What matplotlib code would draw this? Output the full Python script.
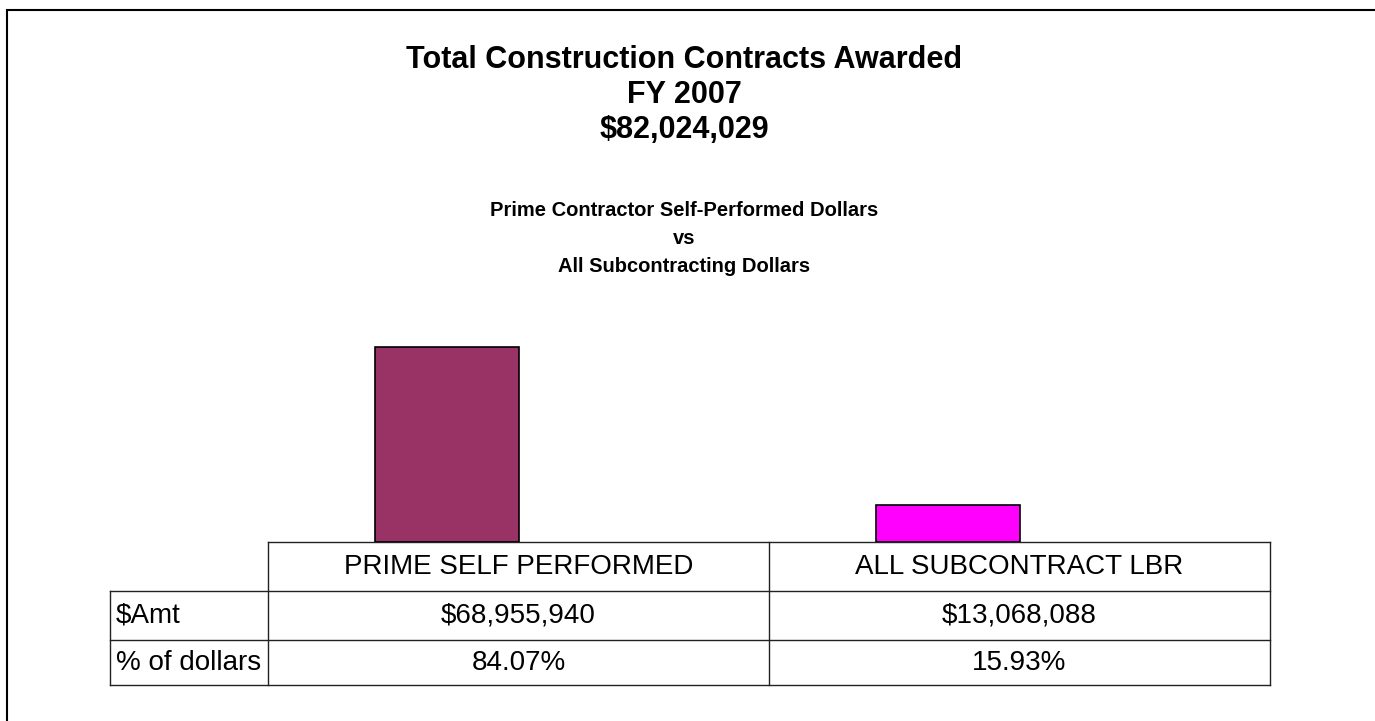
import numpy as np
import matplotlib.pyplot as plt
from matplotlib.patches import Rectangle

plt.rcParams['font.family'] = ['Liberation Sans', 'DejaVu Sans']

# data
categories = ['PRIME SELF PERFORMED', 'ALL SUBCONTRACT LBR']
amounts = [68955940, 13068088]
amt_labels = ['$68,955,940', '$13,068,088']
pct_labels = ['84.07%', '15.93%']
row_labels = ['$Amt', '% of dollars']
bar_colors = ['#993366', '#FF00FF']

title_lines = ['Total Construction Contracts Awarded', 'FY 2007', '$82,024,029']
sub_lines = ['Prime Contractor Self-Performed Dollars', 'vs', 'All Subcontracting Dollars']

W, H = 1375, 721
fig = plt.figure(figsize=(W/100, H/100), dpi=100)

def fx(px):
    return px / W

def fy(py):
    return 1 - py / H

# outer frame (only top and left show in the picture)
fig.patches.append(Rectangle((fx(7), fy(1000)), fx(1400), fy(10) - fy(1000),
                             transform=fig.transFigure, fill=False,
                             edgecolor='black', linewidth=1.5))

# titles
for i, t in enumerate(title_lines):
    fig.text(fx(684), fy(60 + 35*i), t, ha='center', va='center',
             fontsize=22, fontweight='bold')
for i, t in enumerate(sub_lines):
    fig.text(fx(684), fy(210 + 28*i), t, ha='center', va='center',
             fontsize=14.5, fontweight='bold')

# bar area spans the two data columns of the table
ax = fig.add_axes([fx(268), fy(542), fx(1270) - fx(268), fy(316) - fy(542)])
x = np.arange(len(categories))
ax.bar(x + 0.357, amounts, width=0.288, align='center', color=bar_colors,
       edgecolor='black', linewidth=1.2)
ax.set_xlim(0, 2)
ax.set_ylim(0, 80000000)
ax.axis('off')

# data table under the bars, drawn in pixel units
tb = fig.add_axes([0, 0, 1, 1], zorder=-1)
tb.set_xlim(0, W)
tb.set_ylim(H, 0)
tb.axis('off')

lab_l, col_l, col_r = 110, 268, 1270
col_w = (col_r - col_l) / len(categories)
row_y = [542, 591, 640, 685]
lc = '#222222'

# horizontal lines
tb.plot([col_l, col_r], [row_y[0], row_y[0]], color=lc, lw=1)
for yy in row_y[1:]:
    tb.plot([lab_l, col_r], [yy, yy], color=lc, lw=1)
# vertical lines
tb.plot([lab_l, lab_l], [row_y[1], row_y[3]], color=lc, lw=1)
for j in range(len(categories) + 1):
    xx = col_l + j * col_w
    tb.plot([xx, xx], [row_y[0], row_y[3]], color=lc, lw=1)

rows = [categories, amt_labels, pct_labels]
for r, vals in enumerate(rows):
    yc = (row_y[r] + row_y[r + 1]) / 2
    for j, v in enumerate(vals):
        tb.text(col_l + (j + 0.5) * col_w, yc, v, ha='center', va='center',
                fontsize=20)
for r, lab in enumerate(row_labels):
    yc = (row_y[r + 1] + row_y[r + 2]) / 2
    tb.text(lab_l + 6, yc, lab, ha='left', va='center', fontsize=20)

fig.savefig('out.png', dpi=100)
